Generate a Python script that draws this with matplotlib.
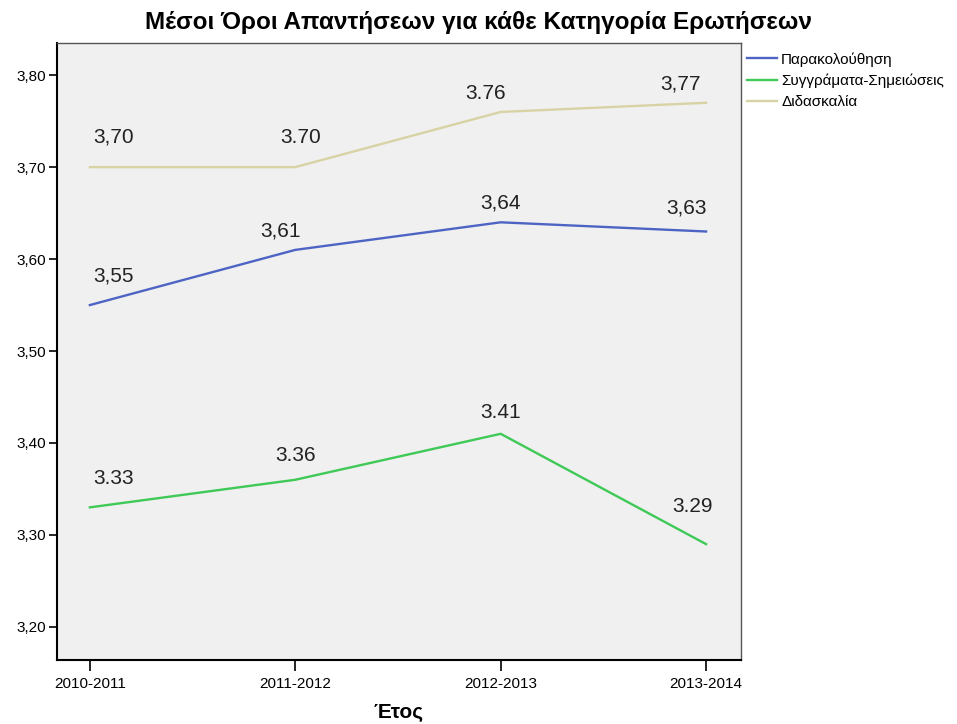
import matplotlib.pyplot as plt

years = ['2010-2011', '2011-2012', '2012-2013', '2013-2014']
parakolouthisi = [3.55, 3.61, 3.64, 3.63]
syggrammata = [3.33, 3.36, 3.41, 3.29]
didaskalia = [3.70, 3.70, 3.76, 3.77]

# value labels as printed on the chart (mixed decimal separators)
parak_labels = ['3,55', '3,61', '3,64', '3,63']
sygg_labels = ['3.33', '3.36', '3.41', '3.29']
didask_labels = ['3,70', '3.70', '3.76', '3,77']

plt.rcParams['font.family'] = ['Liberation Sans', 'DejaVu Sans']

fig = plt.figure(figsize=(9.57, 7.24), dpi=100)
ax = fig.add_axes([57 / 957, 1 - 660 / 724, (741 - 57) / 957, (660 - 43) / 724])
ax.set_facecolor('#f0f0f0')

x = list(range(len(years)))
series = [
    (parakolouthisi, parak_labels, '#4e64c4', 'Παρακολούθηση'),
    (syggrammata, sygg_labels, '#3fc956', 'Συγγράματα-Σημειώσεις'),
    (didaskalia, didask_labels, '#d8d3a4', 'Διδασκαλία'),
]
for vals, labs, col, name in series:
    ax.plot(x, vals, color=col, lw=1.7, label=name)

# label offsets in pixels relative to each point
offsets = {
    'Παρακολούθηση': [(24, 29), (-15, 19), (0, 19), (-20, 24)],
    'Συγγράματα-Σημειώσεις': [(24, 29), (0, 24), (0, 21), (-14, 38)],
    'Διδασκαλία': [(24, 30), (5, 30), (-15, 18), (-26, 19)],
}
for vals, labs, col, name in series:
    for xi, v, lab, off in zip(x, vals, labs, offsets[name]):
        ax.annotate(lab, (xi, v), xytext=off, textcoords='offset pixels',
                    ha='center', va='center', fontsize=15, color='#222222')

ax.set_xlim(-0.16, 3.17)
ax.set_ylim(3.164, 3.835)
ax.set_xticks(x)
ax.set_xticklabels(years, fontsize=11)
yt = [3.2, 3.3, 3.4, 3.5, 3.6, 3.7, 3.8]
ax.set_yticks(yt)
ax.set_yticklabels([f'{v:.2f}'.replace('.', ',') for v in yt], fontsize=11)
ax.tick_params(axis='both', direction='out', color='black', width=1.2)
ax.tick_params(axis='y', length=6, pad=2)
ax.tick_params(axis='x', length=8, pad=4)

for side in ['top', 'right']:
    ax.spines[side].set_color('#555555')
    ax.spines[side].set_linewidth(1.0)
for side in ['left', 'bottom']:
    ax.spines[side].set_color('black')
    ax.spines[side].set_linewidth(1.5)

ax.set_xlabel('Έτος', fontsize=15, fontweight='bold', labelpad=9)
fig.suptitle('Μέσοι Όροι Απαντήσεων για κάθε Κατηγορία Ερωτήσεων',
             x=0.5, y=1 - 22 / 724, va='center', fontsize=17.5, fontweight='bold')

ax.legend(loc='upper left', bbox_to_anchor=(0.995, 1.0), frameon=False,
          fontsize=11, handlelength=2.0, handletextpad=0.25,
          labelspacing=0.45, borderaxespad=0.2)

fig.savefig('out.png', dpi=100, facecolor='white')
